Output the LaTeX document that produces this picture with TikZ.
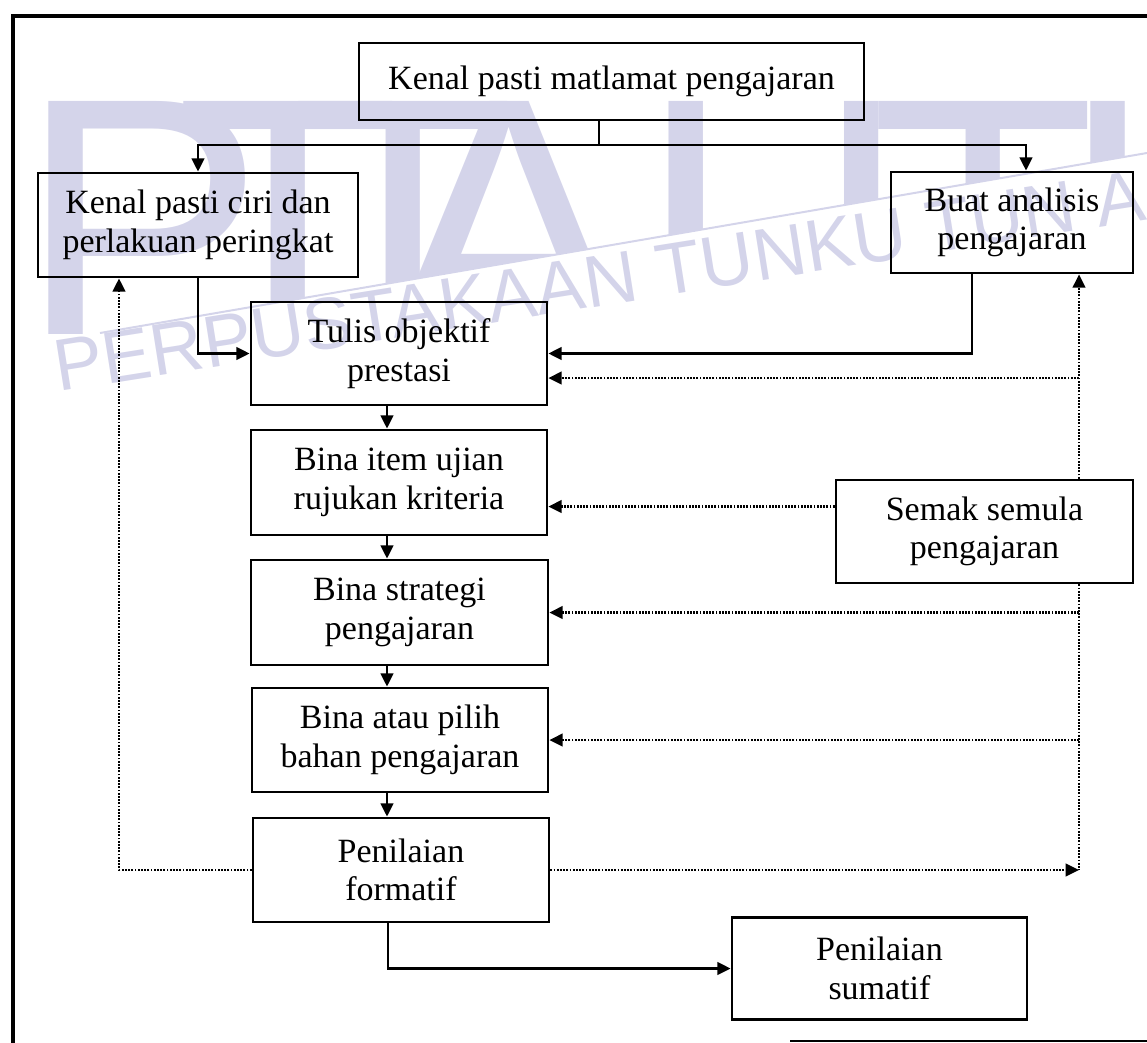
\documentclass[tikz,border=0pt]{standalone}
\usepackage{fontspec}
\setmainfont{Liberation Serif}
\newfontfamily\wmfont{Liberation Sans}
\usetikzlibrary{arrows.meta,calc}
\definecolor{wm}{RGB}{212,212,234}
\begin{document}
\begin{tikzpicture}[x=0.75pt,y=-0.75pt,
  box/.style 2 args={draw,line width=2.1pt,minimum width=#1*0.75pt,minimum height=#2*0.75pt,
     inner sep=0pt,align=center,font=\fontsize{25.5}{29}\selectfont},
  conn/.style={line width=1.8pt,-{Triangle[length=10pt,width=9.5pt]}},
  line/.style={line width=1.8pt},
  dot/.style={line width=1.6pt,dash pattern=on 1.3pt off 1.1pt,-{Triangle[length=10pt,width=9.5pt]}},
  dotline/.style={line width=1.6pt,dash pattern=on 1.3pt off 1.1pt},
  big/.style={text=wm,anchor=base west,inner sep=0pt,font=\wmfont\fontsize{277}{277}\selectfont},
  small/.style={text=wm,anchor=base west,inner sep=0pt,rotate=9,font=\wmfont\fontsize{55}{55}\selectfont}]
\useasboundingbox (0,0) rectangle (1147,1043);
% watermark: big letters clipped above the swoosh line
\begin{scope}
\clip (0,0) -- (1147,0) -- (1147,153) -- (100,333) -- (0,333) -- cycle;
\node[big] (w1) at (18,355) {P};
\node[big] (w2) at (175,355) {T};
\node[big] (w3) at (290,355) {T};
\node[big] (w4) at (385,355) {A};
\node[big] (w5) at (640,355) {U};
\node[big] (w6) at (870,355) {T};
\node[big] (w7) at (1060,355) {H};
\end{scope}
\draw[wm,line width=1.5pt] (100,333) -- (1147,153);
\node[small] (w8) at (58,392) {PERPUSTAKAAN TUNKU TUN A};
% frame
\draw[line width=3pt] (1147,16) -- (13,16) -- (13,1043);
\draw[line width=2pt] (790,1041) -- (1147,1041);
% boxes
\node[box={505}{77}] (T) at (611.5,81.5) {Kenal pasti matlamat pengajaran};
\node[box={320}{104}] (L) at (198,225) {Kenal pasti ciri dan\\perlakuan peringkat};
\node[box={242}{101}] (R) at (1012,222.5) {Buat analisis\\pengajaran};
\node[box={296}{103}] (W) at (399,353.5) {Tulis objektif\\prestasi};
\node[box={296}{105}] (I) at (399,482.5) {Bina item ujian\\rujukan kriteria};
\node[box={297}{105}] (S) at (399.5,612.5) {Bina strategi\\pengajaran};
\node[box={296}{104}] (A) at (400,740) {Bina atau pilih\\bahan pengajaran};
\node[box={296}{104}] (F) at (401,870) {Penilaian\\formatif};
\node[box={297}{103}] (M) at (984.5,531.5) {Semak semula\\pengajaran};
\node[box={295}{102}] (Z) at (879.5,968.5) {Penilaian\\sumatif};
% helper coordinates
\coordinate (j1) at (599,145);
\coordinate (vx) at (1079,0);
\coordinate (ax) at (387,0);
% top split
\draw[line] (T.south -| j1) -- (j1);
\draw[conn] (j1) -| (L.north);
\draw[conn] (j1) -| ($(R.north)+(14,0)$);
% into Tulis
\draw[conn] (L.south) |- (W.west);
\draw[conn] ($(R.south)+(-40,0)$) |- (W.east);
% main chain
\draw[conn] (W.south -| ax) -- (I.north -| ax);
\draw[conn] (I.south -| ax) -- (S.north -| ax);
\draw[conn] (S.south -| ax) -- (A.north -| ax);
\draw[conn] (A.south -| ax) -- (F.north -| ax);
% revise loop
\draw[dot] (M.north -| vx) -- (R.south -| vx);
\draw[dot] ($(vx |- W.east)+(0,24.5)$) -- ($(W.east)+(0,24.5)$);
\draw[dot] ($(M.west)+(0,-25)$) -- ($(I.east)+(0,24)$);
\draw[dot] (vx |- S.east) -- (S.east);
\draw[dot] (vx |- A.east) -- (A.east);
\draw[dotline] (M.south -| vx) -- (vx |- F.east);
\draw[dot] (F.east) -- (vx |- F.east);
\draw[dot] (F.west) -| ($(L.south)+(-79,0)$);
% summative
\draw[conn] ($(F.south)+(-13,0)$) |- (Z.west);
\end{tikzpicture}
\end{document}
